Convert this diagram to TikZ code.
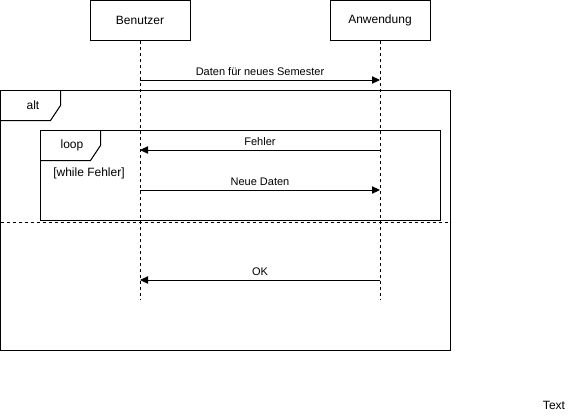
\documentclass[tikz,border=0pt]{standalone}
\usepackage{fontspec}
\setmainfont{Liberation Sans}
\usetikzlibrary{arrows.meta}
\begin{document}
\begin{tikzpicture}[x=0.75pt,y=-0.75pt,
  actor/.style={draw,line width=0.75pt,minimum width=75pt,minimum height=30pt,inner sep=0pt,font=\fontsize{9}{11}\selectfont},
  lifeline/.style={line width=0.75pt,dash pattern=on 2.25pt off 2.25pt},
  msg/.style={line width=0.75pt,-{Triangle[length=6pt,width=5.5pt]}},
  mlabel/.style={font=\fontsize{8.25}{10}\selectfont,inner sep=0pt},
  frame/.style={draw,line width=0.75pt},
  ftext/.style={font=\fontsize{9}{11}\selectfont,inner sep=0pt}]
\useasboundingbox (0,0) rectangle (583,418);
% actors
\node[actor] (ben) at (140,20.5) {Benutzer};
\node[actor] (anw) at (380,20.5) {Anwendung};
\coordinate (benend) at (140,300);
\coordinate (anwend) at (380,300);
\draw[lifeline] (ben.south) -- (benend);
\draw[lifeline] (anw.south) -- (anwend);
% coordinates on lifelines
\coordinate (b1) at (140,80);  \coordinate (a1) at (380,80);
\coordinate (b2) at (140,150); \coordinate (a2) at (380,150);
\coordinate (b3) at (140,190); \coordinate (a3) at (380,190);
\coordinate (b4) at (140,280); \coordinate (a4) at (380,280);
% alt frame
\draw[frame] (0.5,90.5) rectangle (450.5,350.5);
\draw[frame] (0.5,120.5) -- (50.5,120.5) -- (60.5,105.5) -- (60.5,90.5);
\node[ftext] (alt) at (33,105) {alt};
\draw[line width=0.75pt,dash pattern=on 2.25pt off 2.25pt] (0.5,222.5) -- (450.5,222.5);
% loop frame
\draw[frame] (40.5,130.5) rectangle (440.5,220.5);
\draw[frame] (40.5,160.5) -- (90.5,160.5) -- (100.5,145.5) -- (100.5,130.5);
\node[ftext] (loop) at (72,145) {loop};
\node[ftext] (cond) at (89,173) {[while Fehler]};
% messages
\draw[msg] (b1) -- node[mlabel,above=2.8pt] {Daten für neues Semester} (a1);
\draw[msg] (a2) -- node[mlabel,above=2.8pt] {Fehler} (b2);
\draw[msg] (b3) -- node[mlabel,above=2.8pt] {Neue Daten} (a3);
\draw[msg] (a4) -- node[mlabel,above=2.8pt] {OK} (b4);
% free text
\node[ftext] (txt) at (554,405) {Text};
\end{tikzpicture}
\end{document}
